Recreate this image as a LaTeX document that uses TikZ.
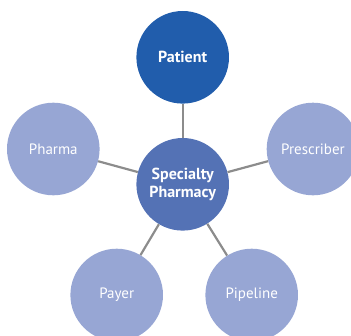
\documentclass[tikz,border=0pt]{standalone}
\usepackage{fontspec}
\setmainfont{PT Sans}
\usepackage{xcolor}

\definecolor{patientblue}{RGB}{33,93,172}
\definecolor{hubblue}{RGB}{84,114,181}
\definecolor{outerblue}{RGB}{151,166,212}
\definecolor{spokegray}{RGB}{140,140,140}

\begin{document}
\begin{tikzpicture}[x=1bp, y=1bp, node distance=128bp]
    \tikzstyle{circ} = [circle, inner sep=0pt, minimum size=92.6bp, text=white, align=center, font=\fontsize{15bp}{18bp}\selectfont]
    \tikzstyle{hubnode} = [circ, fill=hubblue, font=\fontsize{16bp}{18bp}\selectfont\bfseries]
    \tikzstyle{topnode} = [circ, fill=patientblue, font=\fontsize{16bp}{18bp}\selectfont\bfseries]
    \tikzstyle{outer} = [circ, fill=outerblue]
    \tikzstyle{spoke} = [draw=spokegray, line width=2.2bp]

    \useasboundingbox (-182.7,184.3) rectangle (168.3,-151.7);

    \node[hubnode] (hub) {Specialty\\Pharmacy};
    \node[topnode, above of=hub, yshift=-1bp] (patient) {Patient};
    \node[outer, left of=hub, xshift=-1.4bp, yshift=35.3bp] (pharma) {Pharma};
    \node[outer, right of=hub, xshift=2.3bp, yshift=35.3bp] (prescriber) {Prescriber};
    \node[outer, below of=hub, xshift=-66bp, yshift=17.3bp] (payer) {Payer};
    \node[outer, below of=hub, xshift=69bp, yshift=17.3bp] (pipeline) {Pipeline};

    \draw[spoke] (hub) -- (patient);
    \draw[spoke] (hub) -- (pharma);
    \draw[spoke] (hub) -- (prescriber);
    \draw[spoke] (hub) -- (payer);
    \draw[spoke] (hub) -- (pipeline);

\end{tikzpicture}
\end{document}
